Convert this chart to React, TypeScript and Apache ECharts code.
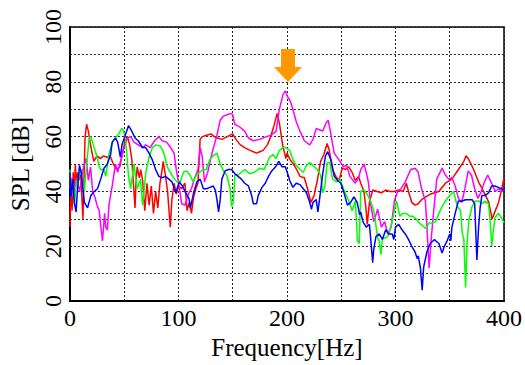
import React, { useEffect, useRef } from "react";
import * as echarts from "echarts";

const xTicks = [0, 100, 200, 300, 400];
const yTicks = [0, 20, 40, 60, 80, 100];

const red: [number, number][] = [
  [0,27],[1,45],[2,33],[3,47],[4,40],[5,50],[6,42],[7,47],[8,44],[10,46],[12,30],[13,45],[14,60],[15.4,64.5],[17,62],[19,57],[22,51],[25,53],[28,52],[31,53],[34,52.5],[37,53],[40,50],[43,48],[46,49],[49,55],[51,59],[53,60],[55,57],[57,52],[59,40],[60,34],[61,44],[62,49],[64,45],[65.3,48],[67,44],[69,33],[71,43],[73,35],[75,42],[77,32],[79,40],[81,34],[83,43],[85,48],[86,51],[88,46],[90,40],[92.5,27],[94,37],[96,43],[98,39],[100,42],[103,41],[106,43],[108,33],[110,36],[112,32],[114,38],[116,41],[118,43],[120,59],[122,60],[126,60.5],[130,61],[133,60],[136,59.5],[140,59],[145,60],[150,61],[153,59],[157,57],[161,56],[166,55],[172,54],[175,54.5],[178,55],[182,57],[185,60],[188,64],[191,68.5],[193,65],[196,57],[199,52],[200,54],[203,51.5],[206,50],[209,48],[212,45.5],[216,45],[219,41],[222,36],[225,38.5],[228,44],[231,51],[234,53.5],[237,57.5],[239,55],[242,48],[245,45.5],[248,44],[251,48.5],[254,48],[257,49],[260,47],[263,44],[266,45.5],[268,43],[271,40],[273,33],[274,28],[276,36],[279,40.5],[283,40],[287,39.5],[291,40.5],[295,40],[299,40],[303,40.5],[307,40],[310,43],[312,40],[315,36],[318,35],[321,35.5],[324,37],[328,38],[332,39],[336,39.5],[340,40],[346,43],[352,44.5],[358,48],[363,51],[365,53],[367,52],[369,50.5],[372,48],[377,43],[380,41],[383,38.5],[386,36],[389,30],[392,33],[395,36],[398,41],[400,45]
];

const magenta: [number, number][] = [
  [0,42],[3,38],[6,45],[9,40],[12,48],[15,52],[17,44],[19,49],[21,40],[23,38],[25,35],[27,33],[28,29],[30,22],[32,32],[33,27],[34.5,26],[36,35],[39,42],[42,50],[44,47],[46,50],[48,53],[50,56],[53,59.5],[56,60],[59,58],[63,57],[67,56],[70,57],[74,56],[78,58.5],[82,60],[85,58.5],[89,58],[92,56.5],[96,54],[98,48],[100,43.5],[103,35.5],[106,35],[109,39],[112,41],[115,45],[118,48],[120,56],[122,52.5],[124,43.5],[127,47],[130,52.5],[133,57],[135.5,60.5],[138.5,66],[141.5,67.5],[145,68],[148,68.5],[150,68],[152,64.5],[156.6,63.5],[161,62],[164.5,59.5],[169,58.5],[175,59],[181,60],[185.5,60.5],[190,62],[193,70],[196.5,75.5],[198.5,76.7],[200,75],[203,73],[205.5,70],[208.5,65.5],[212,62],[216,58.5],[221,57],[224,59],[227,63],[230,62.5],[233,62],[236,65],[238,66],[240,62],[243.5,54],[248,51.5],[252,49],[255,49.5],[258,45.5],[263,43],[266,45],[268,48],[271,50],[273,47],[275,43.5],[277,35.5],[280,29],[283.6,33.5],[287,27],[290,29],[293,24.5],[296,27],[299,36.5],[302,40],[305,41],[309,43.5],[314,48],[318,48.5],[321,47],[324,41],[327.6,36.5],[329,27],[331,12],[333,23],[335,32],[336,36],[338,44.5],[343,48.5],[346,46],[349,44.5],[352,45],[355,42],[358,37.5],[361,36],[364,41],[367,47.5],[370,46],[373,41],[376,37.5],[379,40],[382,43.5],[385,46],[388,43.5],[392,40],[395,41],[398,40],[400,40.5]
];

const green: [number, number][] = [
  [0,48],[1,38],[2.7,43],[4.2,35],[6,44],[7.2,42],[9,47],[10.2,48],[12,42],[13.3,40],[16.3,53.5],[17.8,59.5],[19.3,60],[22.4,56],[25.4,52],[27,49],[28.4,48],[31.4,48],[33,45.5],[36,53.5],[39,58],[42,59.5],[45,61],[47,62.5],[48,63],[49.5,62],[51,59.5],[52.5,53.5],[54,45.5],[56,41],[59,50],[62,41],[65,44.5],[67,35],[70,47],[73,52.5],[76,56],[79,57],[83.6,56.5],[86.6,54],[89.6,49],[92.5,47],[95.5,45],[98.6,43.5],[101.6,43.5],[104.6,47],[107.6,47.5],[110.6,46],[113.6,43.5],[116.6,46],[119.7,47],[122.7,48],[125.7,48],[128.8,51.5],[131.8,53],[135.5,54],[138.5,50],[141.5,47.5],[144.5,46],[147.6,41],[149,34.5],[150.6,36],[152,46],[155,46],[158,47],[161,48],[165.5,46.5],[170,47],[175,48.5],[179,48],[184,52.5],[187,53.5],[190,52],[193,55],[196.5,56],[199,56],[202.5,55],[205.5,51.5],[208.5,49.5],[212,48],[215,47],[218,49.5],[221,50.5],[224,49.5],[228,48],[231,46],[233,39.5],[235,42],[237,50.5],[239.5,50.5],[242,44.5],[246,43.5],[249,44.5],[252,41],[257,36.5],[260,33],[263,36.5],[265,22],[266.6,21],[268,40],[271,40.5],[274,39],[277,36.5],[280,33],[283.6,23],[285,22],[286.6,17],[288,23],[291,23],[293.6,24],[296.6,28.5],[299.7,34.5],[301,36.5],[304,31],[307,32],[310,32],[313,31],[316,31],[319,30],[322,28.5],[325,27.5],[328,26.5],[331,28.5],[334,28.5],[337,29],[340,32],[343,34.5],[346,36.5],[350,38.5],[353.6,40],[357,34.5],[360,33],[361.5,25],[363,22.5],[364.6,5],[366,21.5],[367.6,29.5],[370.6,34.5],[373.6,36.5],[376.6,36.5],[379.6,35.5],[382.6,36.5],[385.7,35.5],[387,30.5],[388.7,20],[390,25],[391.7,30.5],[394.7,32],[397.7,30.5],[400,28.5]
];

const blue: [number, number][] = [
  [0,47],[1,38],[2.7,44.5],[4,36],[5.7,32.5],[7.2,42],[8.8,49.5],[10.3,47],[13.3,36],[16.3,34],[19.3,38.5],[22.4,40],[25.4,41],[28.4,44.5],[31.4,48.5],[34.5,50],[37.5,53.5],[39,58],[42,59.5],[44,58],[46.5,52.5],[48,57],[51,60.5],[54,64],[57,62],[60,59.5],[63,58.5],[67,56],[69.8,56],[72.9,54],[76,51.5],[79,48],[82,45.5],[85,45],[88,45.5],[91.2,44.5],[94,43.5],[97.6,39.5],[100.7,43.5],[103.7,42],[106.7,39.5],[109.7,37.5],[111,34],[114,39.5],[117,43.5],[120,44.5],[123,41],[126,41],[129,41.5],[132,42],[134,40.5],[135.5,37],[137,32.5],[138.5,37],[140,44.5],[143,47.5],[146,48],[149,48],[152,46.5],[155,45.5],[158,44.5],[161,43],[164.5,42],[167.5,38.5],[169,35.5],[172,35.5],[173.5,38.5],[177,41.5],[180,43],[183,45.5],[186,47.5],[189.5,49],[192.5,51],[195.5,49],[198.5,49],[201.5,45.5],[202.5,44],[205.5,41.5],[208.5,43],[212,42.5],[215,41],[218,39.5],[221,36],[222.6,33.5],[224,36],[227,37],[228.5,32.5],[230,37],[233,46.5],[235.5,53],[237.5,54.5],[240.6,51.5],[243.6,45.5],[246.6,44],[249.6,43],[252.6,39.5],[255.7,35],[258.7,36],[261.7,38],[264.7,36],[267,31.5],[268,32.5],[270,29],[273,27],[276,28],[277,23.5],[279,14],[280,19],[282,23.5],[285,24.5],[288,22.5],[291,26],[294,24.5],[297,24.5],[298.5,22.5],[300,27],[303,28],[306,26],[309,24.5],[312,22.5],[315,20],[318,18],[320,15.5],[321,16.5],[323,12],[324.6,4],[326,12.5],[329,18],[332,21],[336,22.5],[337,22],[340,21],[343,17.5],[345,20],[347.6,22],[350,24.5],[351,22],[352,27],[355,32],[358,36.5],[361.5,36.5],[364.6,37],[367.6,37],[370.6,37],[373,35.5],[375,15],[376.6,27],[378,34],[379.6,38.5],[382.6,38.5],[385.7,39.5],[388.7,42],[391.7,42],[394.7,41.5],[397.7,41],[400,40.5]
];

const seriesDefs = [
  { name: "red", color: "#ff0000", data: red },
  { name: "magenta", color: "#ff00ff", data: magenta },
  { name: "green", color: "#00ff00", data: green },
  { name: "blue", color: "#0000ff", data: blue },
];

const FONT = "Liberation Serif";

export default function App() {
  const ref = useRef<HTMLDivElement>(null);
  useEffect(() => {
    if (!ref.current) return;
    const chart = echarts.init(ref.current, null, { renderer: "svg" });
    const grid = { left: 68, right: 16, top: 27, bottom: 51 };
    chart.setOption({
      animation: false,
      backgroundColor: "#ffffff",
      textStyle: { fontFamily: FONT },
      grid: { ...grid, show: true, borderColor: "#000", borderWidth: 1.5, backgroundColor: "transparent" },
      xAxis: {
        type: "value",
        min: 0,
        max: 400,
        interval: 50,
        name: "Frequency[Hz]",
        nameLocation: "middle",
        nameGap: 24,
        nameTextStyle: { fontFamily: FONT, fontSize: 25, color: "#000", verticalAlign: "top" },
        axisLine: { show: true, lineStyle: { color: "#000", width: 2 } },
        axisTick: { show: false },
        axisLabel: {
          fontFamily: FONT,
          fontSize: 24,
          color: "#000",
          margin: 5,
          formatter: (v: number) => (xTicks.includes(v) ? String(v) : ""),
        },
        splitLine: { show: true, lineStyle: { color: "#222", type: [2, 2], width: 1 } },
      },
      yAxis: {
        type: "value",
        min: 0,
        max: 100,
        interval: 10,
        name: "SPL [dB]",
        nameLocation: "middle",
        nameGap: 27,
        nameRotate: 90,
        nameTextStyle: { fontFamily: FONT, fontSize: 25, color: "#000" },
        axisLine: { show: true, lineStyle: { color: "#000", width: 2 } },
        axisTick: { show: false },
        axisLabel: {
          fontFamily: FONT,
          fontSize: 24,
          color: "#000",
          rotate: 90,
          margin: 5,
          formatter: (v: number) => (yTicks.includes(v) ? String(v) : ""),
        },
        splitLine: { show: true, lineStyle: { color: "#222", type: [2, 2], width: 1 } },
      },
      series: seriesDefs.map((s) => ({
        name: s.name,
        type: "line",
        data: s.data,
        showSymbol: false,
        symbol: "none",
        lineStyle: { color: s.color, width: 1.5 },
        itemStyle: { color: s.color },
        z: 3,
      })),
      graphic: [
        {
          type: "polygon",
          shape: {
            points: [
              [281, 49], [295, 49], [295, 67], [302, 67], [288, 82], [274, 67], [281, 67],
            ],
          },
          style: { fill: "#ff9900" },
          z: 10,
        },
      ],
    });
    return () => chart.dispose();
  }, []);
  return <div ref={ref} style={{ position: "fixed", left: 0, top: 0, width: 525, height: 365 }} />;
}
